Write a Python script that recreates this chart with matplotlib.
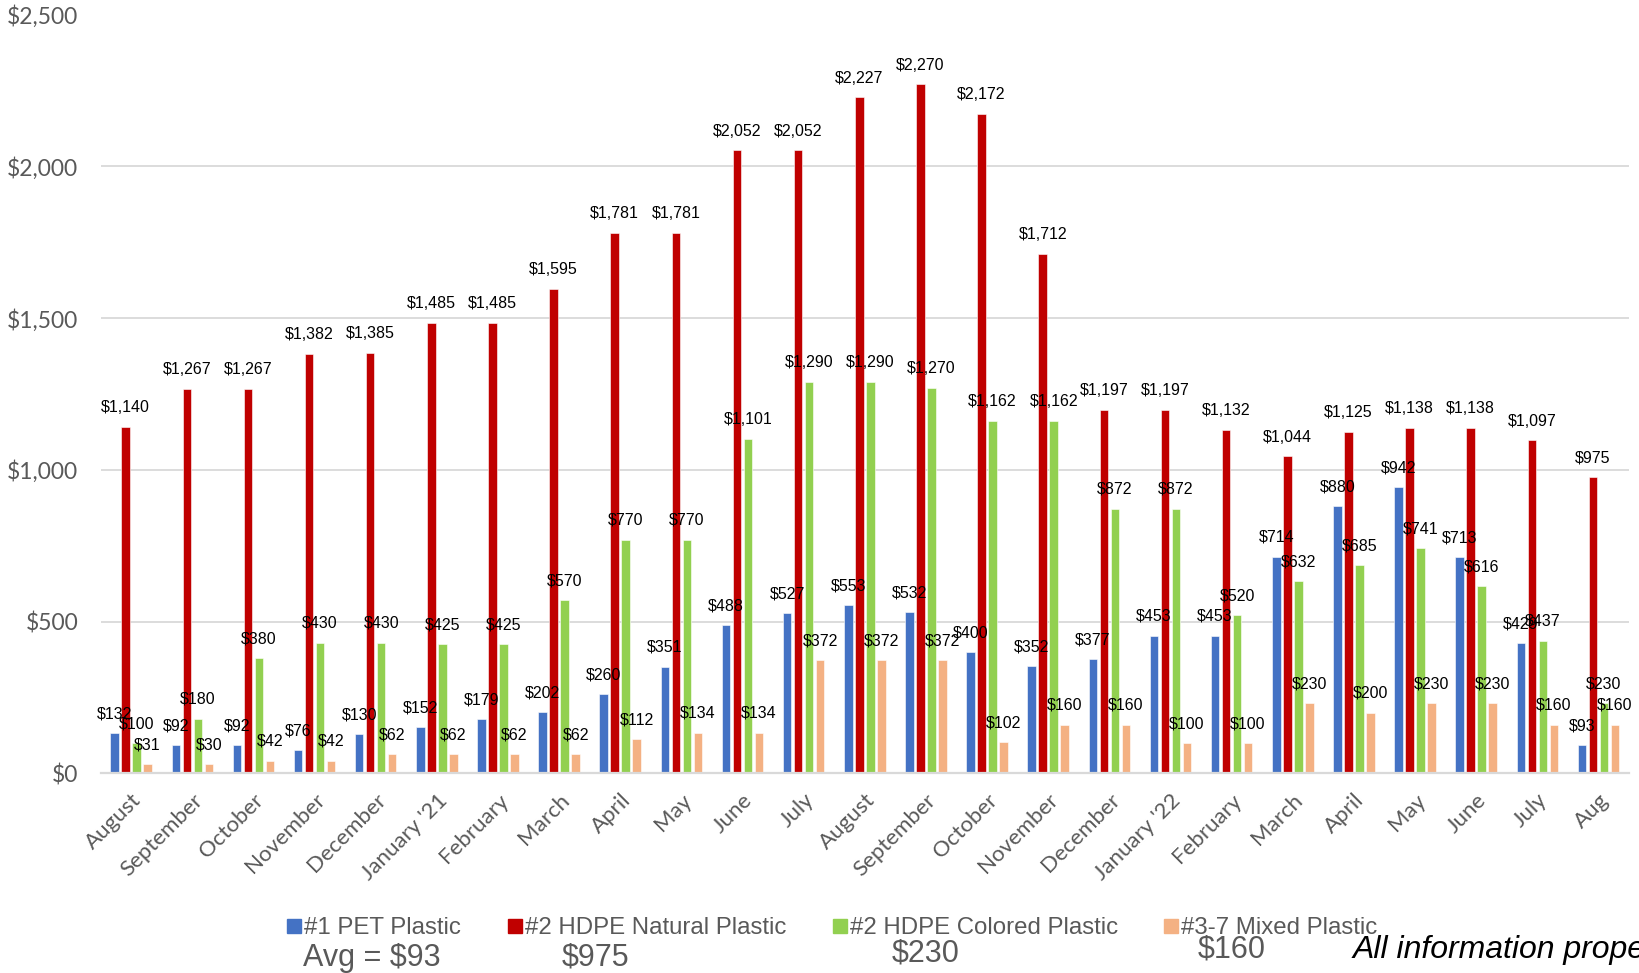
import numpy as np
import matplotlib.pyplot as plt
from matplotlib.patches import Rectangle
from matplotlib.ticker import FuncFormatter, MultipleLocator

W, H = 1639, 973

# Monthly price per ton, Aug 2020 - Aug 2022
months = ["August", "September", "October", "November", "December", "January '21",
          "February", "March", "April", "May", "June", "July", "August", "September",
          "October", "November", "December", "January '22", "February", "March",
          "April", "May", "June", "July", "Aug"]
pet = [132, 92, 92, 76, 130, 152, 179, 202, 260, 351, 488, 527, 553, 532, 400,
       352, 377, 453, 453, 714, 880, 942, 713, 429, 93]
hdpe_natural = [1140, 1267, 1267, 1382, 1385, 1485, 1485, 1595, 1781, 1781, 2052,
                2052, 2227, 2270, 2172, 1712, 1197, 1197, 1132, 1044, 1125, 1138,
                1138, 1097, 975]
hdpe_colored = [100, 180, 380, 430, 430, 425, 425, 570, 770, 770, 1101, 1290, 1290,
                1270, 1162, 1162, 872, 872, 520, 632, 685, 741, 616, 437, 230]
mixed = [31, 30, 42, 42, 62, 62, 62, 62, 112, 134, 134, 372, 372, 372, 102, 160,
         160, 100, 100, 230, 200, 230, 230, 160, 160]

series_names = ["#1 PET Plastic", "#2 HDPE Natural Plastic",
                "#2 HDPE Colored Plastic", "#3-7 Mixed Plastic"]
series_values = [pet, hdpe_natural, hdpe_colored, mixed]
colors = ["#4472C4", "#C00000", "#92D050", "#F4B183"]

GRAY = "#595959"

fig = plt.figure(figsize=(W / 100, H / 100), dpi=100)
ax = fig.add_axes([100.6 / W, 1 - 773.3 / H, (1629 - 100.6) / W, (773.3 - 14.5) / H])

x = np.arange(len(months))
bar_w = 0.14
step = 0.18
for i, (vals, col) in enumerate(zip(series_values, colors)):
    pos = x + (i - 1.5) * step
    bars = ax.bar(pos, vals, width=bar_w, color=col, edgecolor="white",
                  linewidth=0.4, zorder=3)
    for b, v in zip(bars, vals):
        ax.annotate(f"${v:,}", (b.get_x() + b.get_width() / 2, v),
                    xytext=(0, 8.5), textcoords="offset points",
                    ha="center", va="bottom", fontsize=11.5,
                    family="Liberation Sans", color="black", zorder=5)

ax.set_xlim(-0.5, len(months) - 0.5)
ax.set_ylim(0, 2500)
ax.yaxis.set_major_locator(MultipleLocator(500))
ax.yaxis.set_major_formatter(FuncFormatter(lambda v, _: f"${v:,.0f}"))
ax.grid(axis="y", color="#D9D9D9", linewidth=1.3, zorder=0)
for s in ["top", "right", "left"]:
    ax.spines[s].set_visible(False)
ax.spines["bottom"].set_color("#D9D9D9")
ax.spines["bottom"].set_linewidth(1.6)
ax.spines["bottom"].set_zorder(4)

ax.set_xticks(x)
ax.set_xticklabels(months, rotation=45, ha="right", rotation_mode="anchor",
                   fontsize=16, family="Lato", color=GRAY)
ax.tick_params(axis="x", length=0, pad=12)
ax.tick_params(axis="y", length=0, pad=16, labelsize=16.5, labelcolor=GRAY)
for t in ax.get_yticklabels():
    t.set_family("Lato")

# legend row with latest-month values underneath
legend_x = [287, 508, 833, 1164]
latest_x = [303, 562, 892, 1198]
latest_y = [966, 965, 962, 958]
for i, name in enumerate(series_names):
    fig.add_artist(Rectangle((legend_x[i] / W, 1 - 933 / H), 14 / W, 14 / H,
                             transform=fig.transFigure, color=colors[i]))
    fig.text((legend_x[i] + 17) / W, 1 - 934 / H, name, fontsize=17.3,
             family="Liberation Sans", color=GRAY, va="baseline")
    last = series_values[i][-1]
    txt = f"Avg = ${last}" if i == 0 else f"${last}"
    fig.text(latest_x[i] / W, 1 - latest_y[i] / H, txt, fontsize=22,
             family="Liberation Sans", color=GRAY, va="baseline")

fig.text(1353 / W, 1 - 958 / H, "All information property", fontsize=23,
         family="Liberation Sans", style="italic", color="black", va="baseline")

fig.savefig("out.png", dpi=100)
